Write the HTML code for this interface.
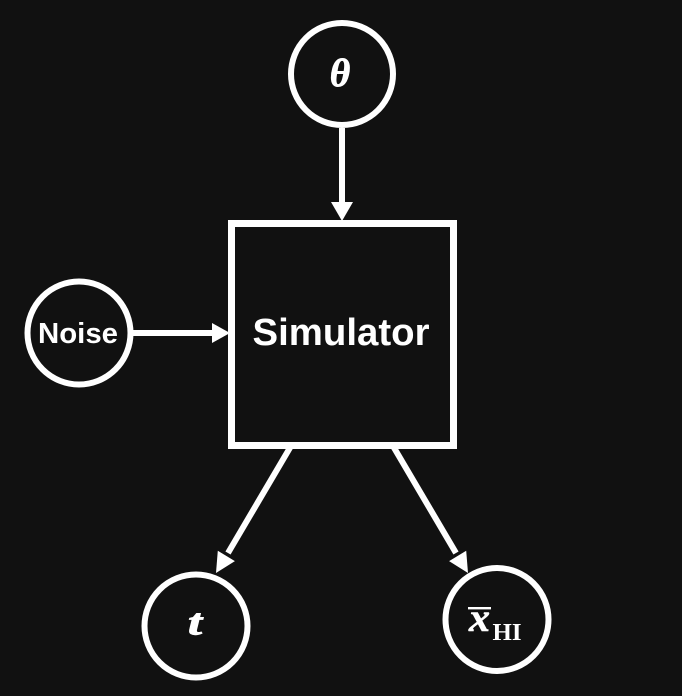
<!DOCTYPE html>
<html>
<head>
<meta charset="utf-8">
<style>
  html, body { margin: 0; padding: 0; background: #111111; }
  svg { display: block; }
</style>
</head>
<body>
<svg width="682" height="696" viewBox="0 0 682 696" xmlns="http://www.w3.org/2000/svg">
  <rect x="0" y="0" width="682" height="696" fill="#111111"/>

  <!-- connectors -->
  <line x1="342" y1="128" x2="342" y2="204" stroke="#fff" stroke-width="6"/>
  <polygon points="331,202 353,202 342,221" fill="#fff"/>

  <line x1="133" y1="333" x2="214" y2="333" stroke="#fff" stroke-width="6"/>
  <polygon points="212,323 212,343 230,333" fill="#fff"/>

  <line x1="291" y1="446" x2="228" y2="553" stroke="#fff" stroke-width="6"/>
  <polygon points="216,573 234.9,561.1 217.8,550.7" fill="#fff"/>

  <line x1="393" y1="446" x2="456" y2="553" stroke="#fff" stroke-width="6"/>
  <polygon points="468,573 449.1,561.1 466.2,550.7" fill="#fff"/>

  <!-- simulator box -->
  <rect x="231.5" y="223.5" width="222" height="222" fill="#111111" stroke="#fff" stroke-width="7"/>
  <text x="341" y="345" text-anchor="middle" font-family="'Liberation Sans', sans-serif" font-weight="bold" font-size="38" fill="#fff" textLength="177" lengthAdjust="spacingAndGlyphs">Simulator</text>

  <!-- theta -->
  <circle cx="342" cy="74" r="51" fill="none" stroke="#fff" stroke-width="6"/>
  <text x="340" y="86" text-anchor="middle" font-family="'Liberation Serif', serif" font-style="italic" font-weight="bold" font-size="39" fill="#fff" stroke="#fff" stroke-width="0.9">θ</text>

  <!-- noise -->
  <circle cx="79" cy="333" r="51.5" fill="none" stroke="#fff" stroke-width="6"/>
  <text x="78" y="343" text-anchor="middle" font-family="'Liberation Sans', sans-serif" font-weight="bold" font-size="29" fill="#fff" textLength="80" lengthAdjust="spacingAndGlyphs">Noise</text>

  <!-- t -->
  <circle cx="196" cy="626" r="51.5" fill="none" stroke="#fff" stroke-width="6"/>
  <text x="188" y="634.5" font-family="'Liberation Serif', serif" font-style="italic" font-weight="bold" font-size="37" fill="#fff" stroke="#fff" stroke-width="0.9" textLength="14" lengthAdjust="spacingAndGlyphs">t</text>

  <!-- x bar HI -->
  <circle cx="497" cy="619.5" r="51.5" fill="none" stroke="#fff" stroke-width="6"/>
  <rect x="468" y="607" width="23" height="2.4" fill="#fff"/>
  <text x="469" y="631" font-family="'Liberation Serif', serif" font-style="italic" font-weight="bold" font-size="40" fill="#fff" stroke="#fff" stroke-width="0.6" textLength="21" lengthAdjust="spacingAndGlyphs">x</text>
  <text x="492.5" y="640" font-family="'Liberation Serif', serif" font-weight="bold" font-size="24" fill="#fff" textLength="29" lengthAdjust="spacingAndGlyphs">HI</text>
</svg>
</body>
</html>
